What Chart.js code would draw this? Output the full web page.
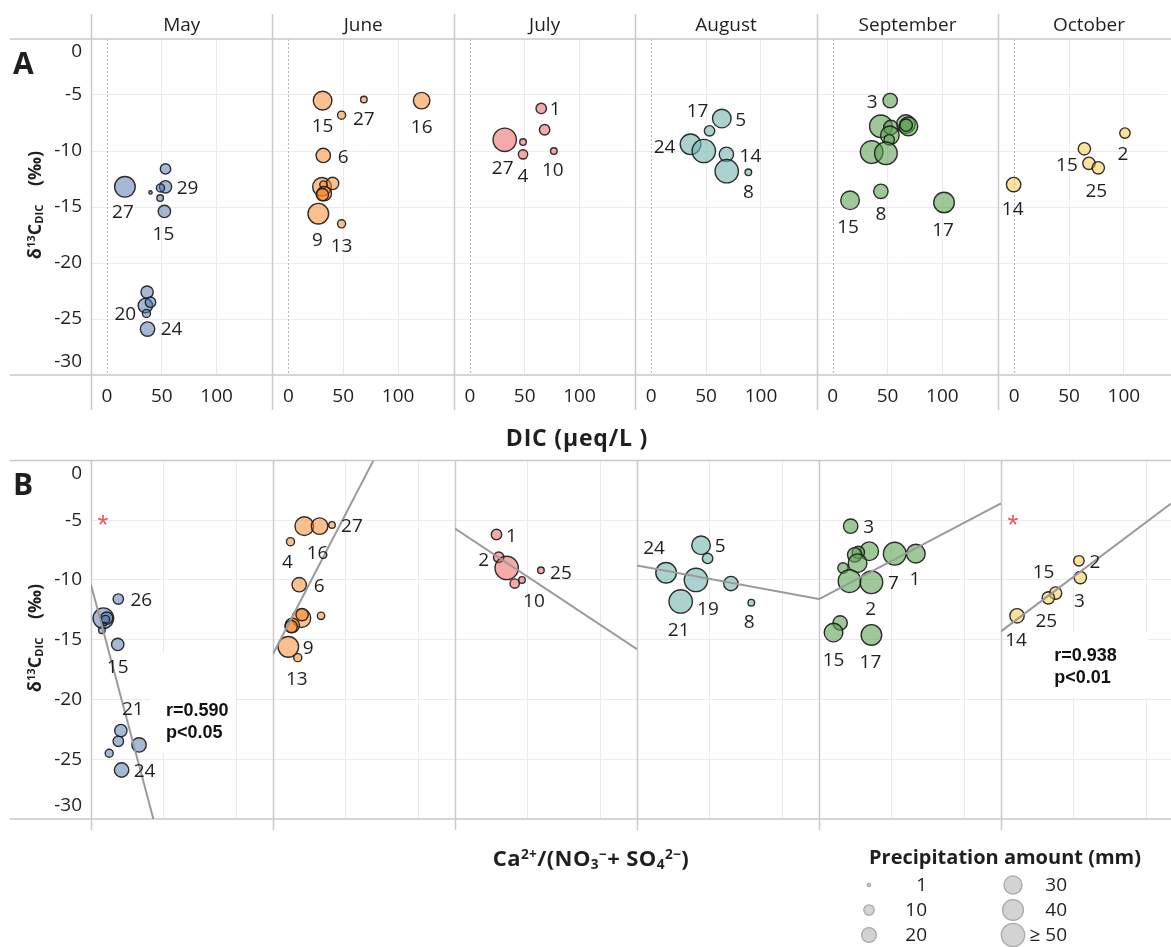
<!DOCTYPE html>
<html><head><meta charset="utf-8">
<script src="https://cdn.jsdelivr.net/npm/chart.js@4"></script>
<style>
html,body{margin:0;padding:0;background:#fff;}
body{width:1171px;height:947px;position:relative;overflow:hidden;font-family:'Open Sans','Noto Sans',sans-serif;color:#1f1f1f;}
canvas{position:absolute;left:0;}
.t{position:absolute;white-space:nowrap;line-height:1;}
.t sup{font-size:0.62em;vertical-align:0.55em;line-height:0;}
.t sub{font-size:0.62em;vertical-align:-0.2em;line-height:0;}
</style></head><body>
<canvas id="cA" width="1171" height="420" style="top:0;width:1171px;height:420px"></canvas>
<canvas id="cB" width="1171" height="507" style="top:440px;width:1171px;height:507px"></canvas>

<div class="t" style="left:13px;top:48px;font-weight:700;font-size:30px;">A</div>
<div class="t" style="left:13px;top:469px;font-weight:700;font-size:30px;">B</div>
<div class="t" style="left:34px;top:205px;font-weight:700;font-size:18px;transform:translate(-50%,-50%) rotate(-90deg);">δ<sup>13</sup>C<sub>DIC</sub>&nbsp;&nbsp;&nbsp;&nbsp;(‰)</div>
<div class="t" style="left:34px;top:638px;font-weight:700;font-size:18px;transform:translate(-50%,-50%) rotate(-90deg);">δ<sup>13</sup>C<sub>DIC</sub>&nbsp;&nbsp;&nbsp;&nbsp;(‰)</div>
<div class="t" style="left:577px;top:426px;font-weight:700;font-size:23px;letter-spacing:0.8px;transform:translateX(-50%);">DIC (μeq/L )</div>
<div class="t" style="left:591px;top:846px;font-weight:700;font-size:22px;letter-spacing:0.4px;transform:translateX(-50%);">Ca<sup>2+</sup>/(NO<sub>3</sub><sup>−</sup>+ SO<sub>4</sub><sup>2−</sup>)</div>

<script>
// ---------------- DATA ----------------
const months = ['May','June','July','August','September','October'];
const xTicksA = [0, 50, 100];
const xTicksB = [0, 1, 2];
const yTicks = [0, -5, -10, -15, -20, -25, -30];

const mayDIC    = [16.4, 53.4, 53.4, 48.8, 39.7, 48.5, 52.4, 36.6, 35.0, 39.7, 36.0, 37.0];
const mayD13C   = [-13.2, -11.6, -13.2, -13.3, -13.7, -14.2, -15.4, -22.6, -23.8, -23.5, -24.5, -25.9];
const mayRatio  = [0.17, 0.375, 0.215, 0.20, 0.19, 0.15, 0.367, 0.41, 0.66, 0.375, 0.25, 0.42];
const mayPrecip = [39, 10, 14, 6, 1, 4, 14, 14, 19, 10, 6, 19];
const mayLabelA = ['27','','29','','','','15','','20','','','24'];
const mayLabelB = ['','26','','','','','15','21','','','','24'];

const junDIC    = [31.2, 68.8, 48.5, 121.5, 31.8, 30.6, 40.3, 32.0, 32.7, 31.0, 27.3, 48.5];
const junD13C   = [-5.5, -5.4, -6.8, -5.5, -10.4, -13.2, -12.9, -13.0, -13.8, -13.9, -15.6, -16.5];
const junRatio  = [0.43, 0.81, 0.24, 0.64, 0.36, 0.39, 0.40, 0.66, 0.265, 0.25, 0.21, 0.34];
const junPrecip = [32, 4, 6, 25, 19, 32, 14, 5, 19, 14, 39, 6];
const junLabelA = ['15','27','','16','6','','','','','','9','13'];
const junLabelB = ['','27','4','16','6','','','','','','9','13'];

const julDIC    = [65.1, 68.2, 31.8, 48.5, 48.5, 76.6];
const julD13C   = [-6.2, -8.1, -9.0, -9.2, -10.3, -10.0];
const julRatio  = [0.57, 0.60, 0.71, 1.18, 0.82, 0.92];
const julPrecip = [10, 10, 56, 4, 8, 4];
const julLabelA = ['1','','27','','4','10'];
const julLabelB = ['1','2','','25','','10'];

const augDIC    = [64.3, 53.1, 35.8, 47.9, 68.5, 68.8, 88.5];
const augD13C   = [-7.1, -8.2, -9.4, -10.0, -10.3, -11.8, -11.9];
const augRatio  = [0.88, 0.97, 0.40, 0.81, 1.29, 0.60, 1.57];
const augPrecip = [32, 10, 39, 56, 19, 56, 4];
const augLabelA = ['5','17','24','','14','','8'];
const augLabelB = ['5','','24','19','','21','8'];

const sepDIC    = [52.4, 66.7, 43.9, 69.0, 67.0, 53.0, 52.1, 51.5, 35.5, 48.5, 43.9, 15.8, 101.5];
const sepD13C   = [-5.5, -7.6, -7.8, -7.8, -7.7, -7.9, -8.6, -9.0, -10.1, -10.2, -13.6, -14.4, -14.6];
const sepRatio  = [0.435, 0.69, 1.04, 1.33, 0.54, 0.49, 0.53, 0.33, 0.42, 0.72, 0.29, 0.20, 0.72];
const sepPrecip = [19, 32, 47, 32, 14, 19, 32, 10, 47, 47, 19, 32, 39];
const sepLabelA = ['3','','','','','','','','','','8','15','17'];
const sepLabelB = ['3','','','1','','','','','2','7','','15','17'];

const octDIC    = [101, 64, 68.2, 76.7, -0.5];
const octD13C   = [-8.4, -9.8, -11.1, -11.5, -13.0];
const octRatio  = [1.07, 1.09, 0.75, 0.65, 0.22];
const octPrecip = [10, 14, 14, 14, 19];
const octLabelA = ['2','','15','25','14'];
const octLabelB = ['2','3','15','25','14'];

// fitted lines (ratio, d13C end points)
const fitRatio = [[0, 0.87], [0, 1.38], [0, 2.5], [0, 2.5], [0, 2.5], [0, 2.335]];
const fitD13C  = [[-10.4, -30.3], [-16.2, 0], [-5.7, -15.8], [-8.8, -11.6], [-11.6, -3.6], [-14.3, -3.6]];

const statsText = [['r=0.590', 'p<0.05'], null, null, null, null, ['r=0.938', 'p<0.01']];
const starPanels = [0, 5];

const legendValues = [1, 10, 20, 30, 40, 50];
const legendLabels = ['1', '10', '20', '30', '40', '≥ 50'];

// ---------------- STYLE / POSITIONS ----------------
const FONT = "'Open Sans','Noto Sans',sans-serif";
const TEXT = '#1f1f1f';
const GRID = '#ebebeb';
const SEP = '#c9c9c9';
const FS = 19;
const COL_W = 182, LAST_W = 170, PLOT_LEFT = 91, PAGE_W = 1171;
const A_X0 = 16, A_PX = 1.1, B_PX = 72.8;
const fills = ['rgba(75,115,175,0.5)','rgba(250,130,30,0.5)','rgba(235,75,75,0.48)',
               'rgba(118,183,178,0.62)','rgba(89,161,79,0.58)','rgba(247,200,60,0.5)'];
const labelOffsets = {
  A: [
    {0:[-2,25], 2:[22,1], 6:[-1,22], 8:[-20,8], 11:[24,0]},
    {0:[0,25], 1:[0,19], 3:[0,26], 4:[20,1], 10:[-1,26], 11:[0,22]},
    {0:[14,0], 2:[-2,28], 4:[0,21], 5:[-1,19]},
    {0:[19,1], 1:[-12,-20], 2:[-26,2], 4:[24,1], 6:[0,19]},
    {0:[-18,1], 10:[0,22], 11:[-2,26], 12:[-1,27]},
    {0:[-2,21], 2:[-22,1], 3:[-2,23], 4:[-1,24]}
  ],
  B: [
    {1:[23,1], 6:[0,22], 7:[12,-22], 11:[23,1]},
    {1:[20,1], 2:[-3,20], 3:[-2,26], 4:[20,1], 10:[20,1], 11:[-1,21]},
    {0:[15,1], 1:[-15,2], 3:[20,2], 5:[12,21]},
    {0:[19,0], 2:[-12,-25], 3:[12,29], 5:[-2,28], 6:[-2,19]},
    {0:[18,0], 3:[-1,25], 8:[21,27], 9:[22,0], 11:[0,27], 12:[-1,27]},
    {0:[16,1], 1:[-1,23], 2:[-12,-21], 3:[-2,23], 4:[-1,24]}
  ]
};
const statsPos = {0:{ratio:1.03, d13c:-20.97, box:[-16,-58,86,100]}, 5:{ratio:0.73, d13c:-16.4, box:[-34,-24,128,66]}};
const starPos = {ratio:0.165, d13c:-4.8};

const monthData = [
  {dic:mayDIC, d13c:mayD13C, ratio:mayRatio, precip:mayPrecip, labA:mayLabelA, labB:mayLabelB},
  {dic:junDIC, d13c:junD13C, ratio:junRatio, precip:junPrecip, labA:junLabelA, labB:junLabelB},
  {dic:julDIC, d13c:julD13C, ratio:julRatio, precip:julPrecip, labA:julLabelA, labB:julLabelB},
  {dic:augDIC, d13c:augD13C, ratio:augRatio, precip:augPrecip, labA:augLabelA, labB:augLabelB},
  {dic:sepDIC, d13c:sepD13C, ratio:sepRatio, precip:sepPrecip, labA:sepLabelA, labB:sepLabelB},
  {dic:octDIC, d13c:octD13C, ratio:octRatio, precip:octPrecip, labA:octLabelA, labB:octLabelB}
];

function radius(p){ return 1.65 * Math.sqrt(Math.min(p, 50)); }

// ---------------- SCALES ----------------
function yScale(){
  return {
    type:'linear', position:'left', min:-30, max:0,
    afterBuildTicks: s => { s.ticks = yTicks.map(v => ({value:v})); },
    afterFit: s => { s.width = PLOT_LEFT; },
    grid: {color: c => (c.tick && (c.tick.value === 0 || c.tick.value === -30)) ? 'rgba(0,0,0,0)' : GRID, drawTicks:false, lineWidth:1},
    border: {display:false},
    ticks: {color:TEXT, font:{family:FONT, size:FS}, padding:9, callback: v => String(v)}
  };
}
function xScales(prefix, row){
  const out = {};
  months.forEach((m, i) => {
    const w = i === 5 ? LAST_W : COL_W;
    const isA = row === 'A';
    out[prefix + i] = {
      type:'linear', position:'bottom', stack:'cols', stackWeight: w / COL_W,
      min: isA ? -A_X0 / A_PX : 0,
      max: isA ? (w - A_X0) / A_PX : w / B_PX,
      afterBuildTicks: s => { s.ticks = (isA ? xTicksA : xTicksB).map(v => ({value:v})); },
      afterFit: s => { s.height = isA ? 45 : 128; },
      grid: {color: c => (c.tick && c.tick.value === 0) ? 'rgba(0,0,0,0)' : GRID, drawTicks:false, lineWidth:1},
      border: {display:false},
      ticks: {display:isA, color:TEXT, font:{family:FONT, size:FS}, padding:10, maxRotation:0, autoSkip:false, callback: v => String(v)}
    };
  });
  return out;
}

// ---------------- PLUGINS ----------------
const edgeLabelShift = {
  id:'edgeLabelShift',
  beforeDraw(chart){
    try {
      const s = chart.scales.y;
      const items = s.getLabelItems(chart.chartArea);
      items.forEach(it => {
        if (it._shifted) return;
        const lab = Array.isArray(it.label) ? it.label[0] : it.label;
        if (lab === '0') it.options.translation[1] += 13;
        if (lab === '-30') it.options.translation[1] -= 13;
        it._shifted = true;
      });
    } catch(e) {}
  }
};

function drawFrame(chart, prefix, sepTop, sepBottom){
  const ctx = chart.ctx, ca = chart.chartArea;
  ctx.save();
  ctx.strokeStyle = SEP; ctx.lineWidth = 1.5;
  ctx.beginPath();
  ctx.moveTo(10, ca.top); ctx.lineTo(PAGE_W, ca.top);
  ctx.moveTo(10, ca.bottom); ctx.lineTo(PAGE_W, ca.bottom);
  months.forEach((m, i) => {
    const x = Math.round(chart.scales[prefix + i].left) + 0.5;
    ctx.moveTo(x, sepTop); ctx.lineTo(x, sepBottom);
  });
  ctx.stroke();
  ctx.restore();
}

function drawPointLabels(chart, offset, key){
  const ctx = chart.ctx;
  ctx.save();
  ctx.font = `${FS}px ${FONT}`; ctx.fillStyle = TEXT;
  ctx.textAlign = 'center'; ctx.textBaseline = 'middle';
  months.forEach((m, i) => {
    const meta = chart.getDatasetMeta(offset + i);
    const labels = monthData[i]['lab' + key];
    const offs = labelOffsets[key][i];
    labels.forEach((t, j) => {
      if (!t) return;
      const el = meta.data[j];
      const o = offs[j] || [0, 20];
      ctx.fillText(t, el.x + o[0], el.y + o[1] + 1);
    });
  });
  ctx.restore();
}

const overlayA = {
  id:'overlayA',
  beforeDatasetsDraw(chart){
    const ctx = chart.ctx, ca = chart.chartArea;
    ctx.save();
    ctx.strokeStyle = '#b9b9b9'; ctx.lineWidth = 1; ctx.setLineDash([2, 2]);
    months.forEach((m, i) => {
      const x = Math.round(chart.scales['xa' + i].getPixelForValue(0)) + 0.5;
      ctx.beginPath(); ctx.moveTo(x, ca.top); ctx.lineTo(x, ca.bottom); ctx.stroke();
    });
    ctx.restore();
    drawFrame(chart, 'xa', 14, 410);
    ctx.save();
    ctx.font = `${FS}px ${FONT}`; ctx.fillStyle = TEXT; ctx.textAlign = 'center'; ctx.textBaseline = 'middle';
    months.forEach((m, i) => {
      const s = chart.scales['xa' + i];
      const w = i === 5 ? (s.right - s.left) * COL_W / LAST_W : (s.right - s.left);
      ctx.fillText(m, s.left + w / 2, 26);
    });
    ctx.restore();
  },
  afterDatasetsDraw(chart){ drawPointLabels(chart, 0, 'A'); }
};

const overlayB = {
  id:'overlayB',
  beforeDatasetsDraw(chart){
    const ctx = chart.ctx, y = chart.scales.y;
    ctx.save();
    ctx.fillStyle = '#ffffff';
    statsText.forEach((lines, i) => {
      if (!lines) return;
      const p = statsPos[i], s = chart.scales['xb' + i];
      const x0 = s.getPixelForValue(p.ratio), y0 = y.getPixelForValue(p.d13c);
      ctx.fillRect(x0 + p.box[0], y0 + p.box[1], p.box[2], p.box[3]);
    });
    ctx.restore();
    drawFrame(chart, 'xb', chart.chartArea.top, chart.chartArea.bottom + 11);
  },
  afterDatasetsDraw(chart){
    const ctx = chart.ctx, y = chart.scales.y;
    drawPointLabels(chart, 6, 'B');
    ctx.save();
    ctx.fillStyle = '#111'; ctx.font = `bold 18px 'Liberation Sans', Arial, sans-serif`;
    ctx.textAlign = 'left'; ctx.textBaseline = 'middle';
    statsText.forEach((lines, i) => {
      if (!lines) return;
      const p = statsPos[i], s = chart.scales['xb' + i];
      const x0 = s.getPixelForValue(p.ratio), y0 = y.getPixelForValue(p.d13c);
      lines.forEach((t, k) => ctx.fillText(t, x0, y0 + k * 22));
    });
    ctx.fillStyle = '#e8585b'; ctx.font = `28px 'Liberation Sans', Arial, sans-serif`;
    ctx.textAlign = 'center'; ctx.textBaseline = 'alphabetic';
    starPanels.forEach(i => {
      const s = chart.scales['xb' + i];
      ctx.fillText('*', s.getPixelForValue(starPos.ratio), y.getPixelForValue(starPos.d13c) + 16);
    });
    ctx.restore();
  },
  afterDraw(chart){
    const ctx = chart.ctx, top = 440;
    ctx.save();
    ctx.fillStyle = TEXT; ctx.textBaseline = 'middle';
    ctx.font = `bold 20px ${FONT}`; ctx.textAlign = 'center';
    ctx.fillText('Precipitation amount (mm)', 1005, 858 - top);
    ctx.font = `${FS}px ${FONT}`; ctx.textAlign = 'right';
    const cx = [869, 1013], lx = [927, 1067], ry = [885, 910, 935];
    legendValues.forEach((v, k) => {
      const col = Math.floor(k / 3), row = k % 3;
      ctx.beginPath();
      ctx.arc(cx[col], ry[row] - top, radius(v), 0, Math.PI * 2);
      ctx.fillStyle = '#d3d3d3'; ctx.fill();
      ctx.strokeStyle = '#a9a9a9'; ctx.lineWidth = 1.3; ctx.stroke();
      ctx.fillStyle = TEXT;
      ctx.fillText(legendLabels[k], lx[col], ry[row] - top + 1);
    });
    ctx.restore();
  }
};

// ---------------- CHARTS ----------------
function bubbleSets(prefix, xKey){
  return monthData.map((d, i) => ({
    type:'bubble',
    xAxisID: prefix + i, yAxisID:'y',
    data: d[xKey].map((x, j) => ({x:x, y:d.d13c[j], r:radius(d.precip[j])})),
    backgroundColor: fills[i],
    borderColor: 'rgba(25,25,25,0.9)',
    borderWidth: 1.4
  }));
}
function fitSets(){
  return months.map((m, i) => ({
    type:'line',
    xAxisID:'xb' + i, yAxisID:'y',
    data: fitRatio[i].map((x, k) => ({x:x, y:fitD13C[i][k]})),
    borderColor:'#9a9a9a', borderWidth:2, pointRadius:0, tension:0, fill:false, clip:0
  }));
}
const common = {
  responsive:false, animation:false, events:[],
  plugins:{legend:{display:false}, tooltip:{enabled:false}}
};

new Chart(document.getElementById('cA'), {
  type:'bubble',
  data:{datasets: bubbleSets('xa', 'dic')},
  options: Object.assign({}, common, {
    layout:{autoPadding:false, padding:{top:39, left:0, right:0, bottom:0}},
    scales: Object.assign({y: yScale()}, xScales('xa', 'A'))
  }),
  plugins:[edgeLabelShift, overlayA]
});

new Chart(document.getElementById('cB'), {
  type:'bubble',
  data:{datasets: fitSets().concat(bubbleSets('xb', 'ratio'))},
  options: Object.assign({}, common, {
    layout:{autoPadding:false, padding:{top:20, left:0, right:0, bottom:0}},
    scales: Object.assign({y: yScale()}, xScales('xb', 'B'))
  }),
  plugins:[edgeLabelShift, overlayB]
});
</script>
</body></html>
